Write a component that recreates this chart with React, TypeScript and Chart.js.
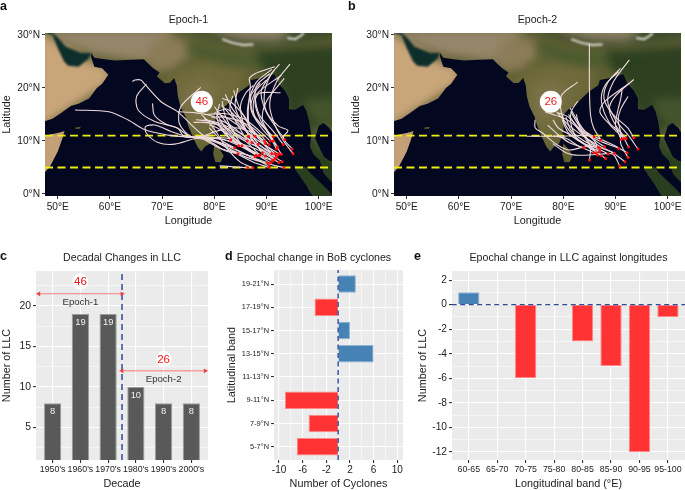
import React, { useEffect, useRef } from "react";
import { Chart, registerables } from "chart.js";

Chart.register(...registerables);

const FONT = '"Liberation Sans", Arial, sans-serif';
const GREY = "#EBEBEB";
const RED = "#FF3333";
const BLUE = "#4682B4";
const DASH_BLUE = "#2F4B9B";

// ---------- panels a / b ----------
const lonTicks = [50, 60, 70, 80, 90, 100];
const latTicks = [0, 10, 20, 30];
const lonRange = [47.55, 102.55];
const latRange = [-0.38, 30.38];
const bandLatitudes = [11, 5];

type P = [number, number];
const landMain: P[] = [[47, 13.6], [49, 14.2], [50.5, 15.2], [52.5, 16.6], [54, 17], [56, 18], [57.5, 20], [58.5, 20.8], [59.7, 22.5], [58.5, 23.7], [57, 24], [56.4, 25.8], [56.4, 26.6], [57, 25.7], [59, 25.4], [61, 25.2], [64, 25.3], [66.5, 25.4], [67.3, 24.6], [68.3, 23.7], [69.5, 22.9], [69, 22.2], [70.5, 20.9], [71.5, 21], [72.3, 21.9], [72.8, 20.5], [73, 18.5], [73.5, 16.5], [74.5, 14.5], [75, 12.8], [76, 10.5], [76.8, 8.8], [77.5, 8], [78.2, 8.9], [79.2, 9.5], [79.8, 11], [80.2, 13.5], [80.1, 15], [81, 16], [82.3, 16.7], [83.5, 18], [85, 19.4], [86.7, 20.5], [87, 21.5], [88.5, 21.8], [90.5, 22.3], [91.5, 22.6], [92.3, 20.8], [93.5, 19.5], [94.3, 18], [94.3, 16], [95.5, 15.9], [97, 16.8], [97.7, 15.5], [98.2, 13.5], [98.6, 11], [98.3, 9], [99, 7.5], [100.2, 6.3], [101, 3.8], [102.5, 2.2], [103, 2.2], [103, 6], [102, 6.3], [101, 7], [100, 9], [99.3, 10.5], [100, 12.8], [100.9, 13.4], [102, 12.5], [103, 11], [103, 31], [47, 31]];
const landAfrica: P[] = [[47, 3.5], [48.5, 5.2], [50, 8], [50.9, 10.5], [51.3, 11.9], [50, 11.5], [48.5, 11.2], [47, 10.8]];
const landSumatra: P[] = [[95.3, 5.4], [97.5, 5.1], [98.5, 3.8], [100.5, 2], [102, 0.5], [103, -0.7], [99, -0.7], [97.5, 1.8], [95.6, 4.5]];
const landSriLanka: P[] = [[80, 9.5], [81, 8.5], [81.8, 7.2], [81.2, 6], [80.2, 6], [79.8, 7.5]];
const landSocotra: P[] = [[53.3, 12.5], [54.4, 12.7], [54.2, 12.3], [53.4, 12.3]];
const persianGulf: P[] = [[47, 30.6], [49, 30], [50, 27.5], [51.2, 25], [52, 24.2], [54, 24], [55.8, 25.4], [56.4, 26.6], [54.5, 26.6], [51.5, 27.8], [50, 29.5], [48.5, 30.8]];

const patchArabia: P[] = [[46, 12], [60, 21], [60, 24], [56, 25], [52, 28], [48, 30], [46, 31]];
const patchHorn: P[] = [[46, 3], [52, 3], [52, 13], [46, 13]];
const patchIran: P[] = [[47, 31], [50, 29], [56, 26.5], [66, 25], [69, 25], [71, 28], [72, 31]];
const patchThar: P[] = [[68, 23], [72, 23.5], [75, 26], [75, 29], [70, 30], [67, 27]];
const patchIndia: P[] = [[70, 21], [74, 24], [80, 25], [86, 23.5], [85, 19], [80, 14], [78, 8], [75, 11]];
const patchDeccan: P[] = [[74, 20], [78, 22], [81, 20], [79, 15], [76, 13], [74, 16]];
const patchGanges: P[] = [[74, 29], [78, 28], [84, 26.5], [90, 26.5], [90, 24], [82, 24.5], [76, 26.5]];
const patchNorthEast: P[] = [[88, 27], [104, 28], [104, 14], [98, 12], [94, 16], [92, 21], [89, 24]];
const patchThailand: P[] = [[97, 18], [104, 18], [104, 13], [100, 13], [98, 15]];
const patchPeninsula: P[] = [[97, 13], [101, 8], [104, 5], [104, 1], [100, 4], [97, 9]];
const patchSumatra: P[] = [[93, 7], [105, 7], [105, -3], [93, -3]];
const patchHimalaya: P[] = [[72, 31.5], [76, 30.5], [80, 29.2], [85, 28], [90, 27.8], [96, 28.5], [104, 29.5], [104, 32]];
const patchTibet: P[] = [[78, 32], [80, 30.5], [85, 29], [92, 28.8], [95, 30], [92, 32]];
const snowLineA: P[] = [[81.5, 29.2], [83.5, 28.5], [85.5, 28.1], [87.5, 28.2]];
const snowLineB: P[] = [[94, 29.4], [95.5, 29.2], [96.5, 29.8], [97.2, 30.4]];

const mapPatches: { poly: P[]; color: string }[] = [
  { poly: patchArabia, color: "#C9A57A" },
  { poly: patchHorn, color: "#C4A078" },
  { poly: patchIran, color: "#96866A" },
  { poly: patchThar, color: "#8C7C58" },
  { poly: patchIndia, color: "#6E6A3A" },
  { poly: patchDeccan, color: "#7B7148" },
  { poly: patchGanges, color: "#4A5A2E" },
  { poly: patchNorthEast, color: "#2C4020" },
  { poly: patchThailand, color: "#44552C" },
  { poly: patchPeninsula, color: "#2A4222" },
  { poly: patchSumatra, color: "#283E1E" },
  { poly: patchHimalaya, color: "#3C4A2A" },
  { poly: patchTibet, color: "#8A7E62" },
];

const epoch1Tracks: P[][] = [
  [[95.1, 7.6], [93.4, 9.8], [91.6, 13], [90.6, 17], [92, 21.3], [94.5, 24.5]],
  [[94.9, 8.5], [93.2, 10.6], [94.1, 12], [92.3, 12.8], [90, 15.5], [89.6, 19], [90.8, 22.5], [92.5, 24.5]],
  [[93.5, 10.3], [92, 12.3], [89.8, 15.8], [89, 19.5], [91.5, 23.4]],
  [[93.2, 9.35], [91.3, 11.8], [88.6, 15], [87.8, 18.5], [88.2, 20.6], [90.65, 22.7]],
  [[92.1, 8.9], [90.5, 11.5], [89.2, 14], [90, 17.5], [93.4, 21.8]],
  [[91.9, 8.5], [90, 12], [87.6, 15], [88, 18.7], [92.85, 22.4]],
  [[92.85, 7.5], [91, 10.5], [88.8, 14], [87.8, 17.3], [88.6, 19], [92.7, 19.1]],
  [[86.4, 4.95], [84, 5.1], [81, 5.3]],
  [[87.4, 4.95], [85, 6], [82.5, 8.5], [80.5, 11.5], [79, 13.5], [77.5, 15]],
  [[93.35, 4.95], [90, 5.8], [86, 7], [82, 9], [78, 10.5], [74.3, 10.8], [71.1, 11.1], [66.7, 12.1], [63.5, 13.95], [59.8, 15.5], [53.3, 15.85]],
  [[90.5, 5], [87.5, 6], [83.5, 8], [79, 10.5], [74.25, 10.8], [73, 12.4], [68.6, 13.65], [65.4, 15.85], [65.1, 18.4], [67, 20.75]],
  [[90.2, 5.9], [87, 7], [83, 9], [78, 11], [73, 15.5], [69.8, 17.4], [66.5, 20.9], [65.9, 21.5], [64.8, 21.5], [64.3, 21.2]],
  [[90.8, 5.9], [87, 8], [82.5, 10.5], [76.8, 10.5], [74.9, 11.1], [73, 12.4], [70.5, 13.3], [68.5, 14.9], [68.15, 17.1]],
  [[90.45, 5.3], [86, 7.5], [80, 10], [76.8, 10.5], [72.4, 9.4], [69.2, 9.7], [67, 11.45], [66.8, 12.7], [68.6, 13], [71.7, 11.8], [75, 10.8], [79, 11]],
  [[92.35, 5.95], [88, 8.5], [83, 10], [78, 10.8], [75.5, 10.8], [73.3, 13.3], [73.6, 16.5], [77.4, 20.1]],
  [[93, 6.1], [89, 8.5], [84, 11], [80, 14.5], [76.5, 15.3], [73, 15.5]],
  [[92.35, 7.6], [88.5, 10], [84.5, 13], [81, 15], [78, 15]],
  [[92.1, 7.3], [88, 9.5], [84, 12], [80.5, 13.5], [76.5, 14]],
  [[91.6, 6.6], [88, 9], [84, 11.5], [81, 13], [78, 13.5], [76, 13.5]],
  [[91.15, 6.4], [87.5, 8], [84, 10], [81.5, 12.5], [79, 13.8]],
  [[91.3, 6.2], [88, 7.5], [85, 9.5], [82.5, 12], [80.5, 15]],
  [[91.9, 6.95], [89, 9], [86, 12], [83, 15], [81.4, 16.8]],
  [[91.6, 7.6], [89, 10], [86, 13], [83.5, 16], [82.1, 18.8]],
  [[91, 7.65], [88.5, 10.5], [86, 14], [84.5, 17], [83.7, 19.6]],
  [[89.8, 7.15], [87.5, 10], [85.5, 13], [84, 16.5], [84.5, 20]],
  [[89.2, 7.8], [87, 10.5], [85, 13.5], [82.5, 16], [80.4, 15.5]],
  [[88.75, 7.3], [86.5, 9.5], [84, 11.5], [81.5, 14.5], [80, 16.5]],
  [[88.45, 7.2], [86, 9], [83, 11], [80.5, 12.5], [79, 13]],
  [[88, 7.3], [85, 9], [82, 10.2], [79.5, 10.5], [77, 10.6]],
  [[87.8, 7], [84.5, 7.8], [81.5, 8.5], [79, 10], [77, 10.5]],
  [[84.5, 7.6], [82.5, 8], [80.5, 8.9], [78, 10.3]],
  [[84.66, 9.1], [82.5, 11], [80.5, 13.2], [78, 14.2]],
  [[83.15, 10.2], [81.5, 12], [80.5, 14.5], [81, 17]],
  [[83.9, 8.7], [81.5, 10], [80, 11.5], [79, 12.5]],
  [[85.3, 9.1], [83.5, 12], [82, 15], [81.5, 17.5]],
  [[86.3, 10], [84.5, 13], [83, 16], [83.5, 18.5]],
  [[86.55, 10.9], [85.5, 13.5], [85, 16.5], [86, 19], [87.5, 20.5]],
  [[87.8, 10.9], [86.5, 13.5], [86.5, 17], [88, 21], [91, 23.5]],
  [[87.2, 9.7], [85, 11.5], [83, 13], [81, 14]],
  [[88.4, 9.4], [86.8, 12], [86.5, 15.5], [86.9, 20.5], [86.7, 21.8], [87.8, 22.7], [91.6, 24]],
  [[89.8, 9.5], [87.5, 12], [85.5, 15], [83, 17.5], [81.5, 18]],
  [[90.5, 9.3], [88, 12], [85.5, 13.5], [82, 14.5], [79.5, 14.5]],
  [[91.3, 10.8], [89.5, 12.5], [87.5, 15], [87, 18.5], [88.8, 20.85]],
  [[91.3, 10], [89, 12.5], [87, 16], [88, 19.5], [90, 21.5]],
  [[90.7, 10], [88.5, 12], [86, 14], [83, 15], [80, 15.3]],
  [[89.6, 10], [87.5, 11.5], [84, 12.5], [81, 12], [78, 11]],
];

const epoch2Tracks: P[][] = [
  [[94.3, 8.5], [92.5, 11], [90, 14], [88.5, 17.5], [89.5, 21], [92.65, 25.3]],
  [[93.5, 10.6], [92.3, 12.5], [89.5, 15], [87.8, 18], [88.5, 21], [90.95, 23.7]],
  [[92.5, 8.9], [91, 11.5], [88.8, 13.5], [87.3, 17.5], [88, 20.5], [90.6, 23.1]],
  [[92, 10.45], [90, 13], [88.8, 16], [90, 18.5], [93.5, 21.6]],
  [[91.6, 10.45], [89, 13], [87, 15.5], [88, 17.5], [92.65, 20.9]],
  [[91.1, 10.3], [90, 13], [90.5, 16], [91, 18], [91.3, 19.9]],
  [[92.4, 6.9], [91, 9.5], [91, 11.5], [90.5, 14], [91, 16], [92.4, 18.4]],
  [[87.2, 10.2], [85.8, 12.5], [85.2, 15], [85, 20], [85, 28.4]],
  [[92.2, 7.8], [89, 9.5], [85, 11], [80, 10.9], [76, 10.9], [73, 10.9]],
  [[91.8, 6.1], [89, 8], [85, 9], [81, 8.3], [78.5, 9.5], [76, 11.5], [74.6, 12.5], [74.6, 14]],
  [[90.8, 5.3], [89.5, 7.5], [87, 7.5], [83, 7.3], [80.5, 7.8], [78, 9.5]],
  [[90.6, 8.6], [87, 10], [84, 11.5], [81.5, 13.5], [79.6, 14.5], [76.5, 15.5]],
  [[89.8, 7.7], [87, 9], [84, 10.8], [81, 13], [78.7, 15.5]],
  [[88.6, 7.55], [86, 8.8], [83, 10], [81.5, 13], [81.5, 15.5], [82.75, 17.5]],
  [[88.1, 6.7], [85.5, 8.5], [82, 11], [80, 14], [79.6, 18.5], [82.75, 21.1]],
  [[87.9, 8.9], [85.5, 10.5], [83, 12.5], [81, 14.5], [79, 15.3]],
  [[87.3, 7.2], [84.5, 9], [81.5, 11], [79, 12.5], [78, 14]],
  [[87, 8], [84, 9.5], [81, 11.5], [79.8, 14]],
  [[86.7, 8.8], [84, 10], [81.5, 12], [80.5, 14.5]],
  [[86.5, 7.35], [86.3, 9.5], [84.5, 11.5], [83, 13], [82, 14.5], [81.5, 15.5]],
  [[86.35, 7.8], [84.5, 10], [83, 13], [82.5, 15]],
  [[85.9, 7.8], [83, 9], [80.5, 10.5], [78, 11]],
  [[85, 6.4], [85.2, 8.5], [84.5, 10.5], [82.5, 12.8]],
  [[83.9, 8.75], [81.5, 9.5], [79.5, 10.8], [77, 13]],
  [[87, 8.6], [85, 10], [83, 12], [81, 15]],
  [[85.9, 10.8], [84, 12], [82, 15], [81.3, 16.2]],
];
const badgePosition: P = [77.6, 17.4];

// ---------- panel c ----------
const decades = ["1950's", "1960's", "1970's", "1980's", "1990's", "2000's"];
const decadeCounts = [8, 19, 19, 10, 8, 8];
const decadeYTicks = [2.5, 5, 7.5, 10, 12.5, 15, 17.5, 20, 22.5];
const epochSplit = 2.5;
const epoch1Span = [-0.5, 2.5];
const epoch2Span = [2.5, 5.5];
const epoch1ArrowLevel = 21.5;
const epoch2ArrowLevel = 12;

// ---------- panel d ----------
const latBands = ["5-7°N", "7-9°N", "9-11°N", "11-13°N", "13-15°N", "15-17°N", "17-19°N", "19-21°N"];
const latChange = [-7, -5, -9, 0, 6, 2, -4, 3];
const latXTicks = [-10, -8, -6, -4, -2, 0, 2, 4, 6, 8, 10];
const latXLabelled = [-10, -6, -2, 2, 6, 10];

// ---------- panel e ----------
const lonBands = ["60-65", "65-70", "70-75", "75-80", "80-85", "85-90", "90-95", "95-100"];
const lonChange = [1, 0, -6, 0, -3, -5, -12, -1];
const lonYTicks = [-12, -11, -10, -9, -8, -7, -6, -5, -4, -3, -2, -1, 0, 1, 2];

type Note = { x: number; y: number; text: string; color: string; size: number; circle?: number };

const notesPlugin = (id: string, notes: Note[]) => ({
  id,
  afterDatasetsDraw(chart: any) {
    const { ctx, scales } = chart;
    ctx.save();
    ctx.textAlign = "center";
    ctx.textBaseline = "middle";
    for (const n of notes) {
      const px = scales.x.getPixelForValue(n.x);
      const py = scales.y.getPixelForValue(n.y);
      if (n.circle) {
        ctx.fillStyle = "#fff";
        ctx.beginPath();
        ctx.arc(px, py, n.circle, 0, Math.PI * 2);
        ctx.fill();
      }
      ctx.fillStyle = n.color;
      ctx.font = `${n.size}px ${FONT}`;
      ctx.fillText(n.text, px, py + 0.5);
    }
    ctx.restore();
  },
});

const panelBgPlugin = {
  id: "panelBg",
  beforeDraw(chart: any) {
    const { ctx, chartArea: a } = chart;
    ctx.save();
    ctx.fillStyle = GREY;
    ctx.fillRect(a.left, a.top, a.right - a.left, a.bottom - a.top);
    ctx.restore();
  },
};

const mapPlugin = {
  id: "mapLayer",
  beforeDatasetsDraw(chart: any) {
    const { ctx, chartArea: a, scales } = chart;
    ctx.save();
    ctx.beginPath();
    ctx.rect(a.left, a.top, a.right - a.left, a.bottom - a.top);
    ctx.clip();
    ctx.fillStyle = "#03071F";
    ctx.fillRect(a.left, a.top, a.right - a.left, a.bottom - a.top);

    const off = document.createElement("canvas");
    off.width = chart.width;
    off.height = chart.height;
    const oc: any = off.getContext("2d");
    const trace = (poly: P[], close: boolean) => {
      oc.beginPath();
      poly.forEach(([lon, lat], i) => {
        const px = scales.x.getPixelForValue(lon);
        const py = scales.y.getPixelForValue(lat);
        if (i === 0) oc.moveTo(px, py);
        else oc.lineTo(px, py);
      });
      if (close) oc.closePath();
    };
    oc.filter = "blur(0.6px)";
    oc.fillStyle = "#5F5F32";
    [landMain, landAfrica, landSumatra, landSriLanka, landSocotra].forEach((p) => {
      trace(p, true);
      oc.fill();
    });
    oc.globalCompositeOperation = "source-atop";
    oc.filter = "blur(5px)";
    for (const patch of mapPatches) {
      oc.fillStyle = patch.color;
      trace(patch.poly, true);
      oc.fill();
    }
    oc.filter = "blur(1.2px)";
    oc.fillStyle = "#0E2E2C";
    trace(persianGulf, true);
    oc.fill();
    oc.strokeStyle = "#E4E0D8";
    oc.lineWidth = 2;
    oc.filter = "blur(1px)";
    for (const s of [snowLineA, snowLineB]) {
      trace(s, false);
      oc.stroke();
    }
    ctx.drawImage(off, 0, 0);
    ctx.restore();
  },
};

const pinned = (size: number) => (scale: any) => {
  if (scale.isHorizontal()) scale.height = size;
  else scale.width = size;
};

const fixedTicks = (values: number[]) => (scale: any) => {
  scale.ticks = values.map((value) => ({ value }));
};

const axisTitle = (text: string, padding = 0) => ({
  display: true,
  text,
  color: "#222",
  font: { family: FONT, size: 10.8 },
  padding,
});

const chartTitle = (text: string, top: number, bottom: number, fullSize = false) => ({
  display: true,
  text,
  fullSize,
  color: "#222",
  font: { family: FONT, size: 10.6, weight: "normal" as const },
  padding: { top, bottom },
});

const mapConfig = (title: string, tracks: P[][], badge: string): any => {
  const trackSets = tracks.map((t) => ({
    data: t.map(([x, y]) => ({ x, y })),
    showLine: true,
    borderColor: "#EFDADC",
    borderWidth: 1.1,
    tension: 0.3,
    pointRadius: 0,
    order: 3,
  }));
  const geneses = {
    data: tracks.map((t) => ({ x: t[0][0], y: t[0][1] })),
    showLine: false,
    pointRadius: 1.5,
    pointBackgroundColor: "#FF1010",
    pointBorderWidth: 0,
    order: 1,
  };
  const bands = bandLatitudes.map((lat) => ({
    data: lonRange.map((x) => ({ x, y: lat })),
    showLine: true,
    borderColor: "#EDED10",
    borderWidth: 1.8,
    borderDash: [8, 4.5],
    pointRadius: 0,
    order: 4,
  }));
  return {
    type: "scatter",
    data: { datasets: [...bands, ...trackSets, geneses] },
    options: {
      animation: false,
      responsive: false,
      layout: { padding: 0 },
      plugins: {
        legend: { display: false },
        tooltip: { enabled: false },
        title: chartTitle(title, 13.6, 6.6),
      },
      scales: {
        x: {
          type: "linear",
          min: lonRange[0],
          max: lonRange[1],
          afterBuildTicks: fixedTicks(lonTicks),
          afterFit: pinned(32),
          grid: { drawOnChartArea: false, tickColor: "#333", tickLength: 3 },
          border: { display: false },
          ticks: { autoSkip: false, maxRotation: 0, color: "#222", padding: 2, font: { family: FONT, size: 10.2 }, callback: (v: number) => `${v}°E` },
          title: axisTitle("Longitude"),
        },
        y: {
          type: "linear",
          min: latRange[0],
          max: latRange[1],
          afterBuildTicks: fixedTicks(latTicks),
          afterFit: pinned(45),
          grid: { drawOnChartArea: false, tickColor: "#333", tickLength: 3 },
          border: { display: false },
          ticks: { autoSkip: false, color: "#222", padding: 2, font: { family: FONT, size: 10.2 }, callback: (v: number) => `${v}°N` },
          title: axisTitle("Latitude", 1),
        },
      },
    },
    plugins: [
      mapPlugin,
      notesPlugin("badge", [{ x: badgePosition[0], y: badgePosition[1], text: badge, color: "#F01E1E", size: 11.5, circle: 11 }]),
    ],
  };
};

const gridWidth = (isMajor: (v: number) => boolean) => (c: any) => (c.tick && isMajor(c.tick.value) ? 1.1 : 0.55);

const decadeConfig = (): any => ({
  type: "bar",
  data: {
    datasets: [
      {
        type: "bar",
        data: decadeCounts.map((y, x) => ({ x, y })),
        backgroundColor: "#595959",
        borderColor: "#9A9A9A",
        borderWidth: 1,
        barPercentage: 0.62,
        categoryPercentage: 1,
        order: 3,
      },
      {
        type: "line",
        data: [{ x: epochSplit, y: 1 }, { x: epochSplit, y: 24.3 }],
        borderColor: DASH_BLUE,
        borderWidth: 1.5,
        borderDash: [6, 4],
        pointRadius: 0,
        order: 2,
      },
      {
        type: "line",
        data: epoch1Span.map((x) => ({ x, y: epoch1ArrowLevel })),
        borderColor: "#F28080",
        borderWidth: 1.1,
        pointStyle: "triangle",
        pointRadius: 2.8,
        pointRotation: [-90, 90],
        pointBackgroundColor: "#EE4040",
        pointBorderWidth: 0,
        order: 1,
      },
      {
        type: "line",
        data: epoch2Span.map((x) => ({ x, y: epoch2ArrowLevel })),
        borderColor: "#F4A0A0",
        borderWidth: 1.5,
        pointStyle: "triangle",
        pointRadius: 2.8,
        pointRotation: [-90, 90],
        pointBackgroundColor: "#EE4040",
        pointBorderWidth: 0,
        order: 1,
      },
    ],
  },
  options: {
    animation: false,
    responsive: false,
    plugins: {
      legend: { display: false },
      tooltip: { enabled: false },
      title: chartTitle("Decadal Changes in LLC", 11.7, 6.7),
    },
    scales: {
      x: {
        type: "linear",
        offset: false,
        min: -0.6,
        max: 5.6,
        afterBuildTicks: fixedTicks(decades.map((_, i) => i)),
        afterFit: pinned(31),
        grid: { offset: false, color: "#fff", lineWidth: 1.1, tickColor: "#333", tickLength: 3 },
        border: { display: false },
        ticks: { autoSkip: false, maxRotation: 0, color: "#222", padding: 1, font: { family: FONT, size: 8.8 }, callback: (v: number) => decades[v] },
        title: axisTitle("Decade"),
      },
      y: {
        type: "linear",
        min: 1,
        max: 24.3,
        afterBuildTicks: fixedTicks(decadeYTicks),
        afterFit: pinned(36),
        grid: {
          color: "#fff",
          lineWidth: gridWidth((v) => v % 5 === 0),
          tickColor: (c: any) => (c.tick && c.tick.value % 5 === 0 ? "#333" : "transparent"),
          tickLength: 3,
        },
        border: { display: false },
        ticks: { autoSkip: false, color: "#222", padding: 2, font: { family: FONT, size: 10.4 }, callback: (v: number) => (v % 5 === 0 ? String(v) : "") },
        title: axisTitle("Number of LLC", 1),
      },
    },
  },
  plugins: [
    panelBgPlugin,
    {
      id: "valueLabels",
      afterDatasetsDraw(chart: any) {
        const { ctx } = chart;
        const meta = chart.getDatasetMeta(0);
        ctx.save();
        ctx.fillStyle = "#F2F2F2";
        ctx.font = `9.4px ${FONT}`;
        ctx.textAlign = "center";
        ctx.textBaseline = "middle";
        meta.data.forEach((bar: any, i: number) => ctx.fillText(String(decadeCounts[i]), bar.x, bar.y + 8));
        ctx.restore();
      },
    },
    notesPlugin("decadeNotes", [
      { x: 1, y: 23, text: "46", color: "#F01414", size: 11.5, circle: 8 },
      { x: 4, y: 13.45, text: "26", color: "#F01414", size: 11.5, circle: 8 },
      { x: 1, y: 20.5, text: "Epoch-1", color: "#333", size: 9.6 },
      { x: 4, y: 11, text: "Epoch-2", color: "#333", size: 9.6 },
    ]),
  ],
});

const signColor = (v: number) => (v > 0 ? BLUE : RED);

const latConfig = (): any => ({
  type: "bar",
  data: {
    datasets: [
      {
        type: "bar",
        data: latChange.map((x, y) => ({ x, y })),
        backgroundColor: latChange.map(signColor),
        borderColor: latChange.map((v) => (v > 0 ? "#8FB4D4" : "#FF8A8A")),
        borderWidth: 1,
        barPercentage: 0.75,
        categoryPercentage: 1,
        order: 2,
      },
      {
        type: "scatter",
        showLine: true,
        data: [{ x: 0, y: -0.57 }, { x: 0, y: 7.6 }],
        borderColor: DASH_BLUE,
        borderWidth: 1.4,
        borderDash: [5, 3.5],
        pointRadius: 0,
        order: 1,
      },
    ],
  },
  options: {
    indexAxis: "y",
    animation: false,
    responsive: false,
    layout: { padding: { right: 49 } },
    plugins: {
      legend: { display: false },
      tooltip: { enabled: false },
      title: chartTitle("Epochal change in BoB cyclones", 11.7, 5.7, true),
    },
    scales: {
      x: {
        type: "linear",
        min: -10.85,
        max: 10.97,
        afterBuildTicks: fixedTicks(latXTicks),
        afterFit: pinned(31),
        grid: {
          color: "#fff",
          lineWidth: gridWidth((v) => latXLabelled.includes(v)),
          tickColor: (c: any) => (c.tick && latXLabelled.includes(c.tick.value) ? "#333" : "transparent"),
          tickLength: 3,
        },
        border: { display: false },
        ticks: { autoSkip: false, maxRotation: 0, color: "#222", padding: 1, font: { family: FONT, size: 10 }, callback: (v: number) => (latXLabelled.includes(v) ? String(v) : "") },
        title: axisTitle("Number of Cyclones"),
      },
      y: {
        type: "linear",
        offset: false,
        min: -0.57,
        max: 7.6,
        afterBuildTicks: fixedTicks(latBands.map((_, i) => i)),
        afterFit: pinned(49),
        grid: { offset: false, color: "#fff", lineWidth: 1.1, tickColor: "#333", tickLength: 3 },
        border: { display: false },
        ticks: { autoSkip: false, color: "#222", padding: 2, font: { family: FONT, size: 7.4 }, callback: (v: number) => latBands[v] },
        title: axisTitle("Latitudinal band", 1),
      },
    },
  },
  plugins: [panelBgPlugin],
});

const lonConfig = (): any => ({
  type: "bar",
  data: {
    datasets: [
      {
        type: "bar",
        data: lonChange.map((y, x) => ({ x, y })),
        backgroundColor: lonChange.map(signColor),
        borderColor: lonChange.map((v) => (v > 0 ? "#8FB4D4" : "#FF8A8A")),
        borderWidth: 1,
        barPercentage: 0.75,
        categoryPercentage: 1,
        order: 2,
      },
      {
        type: "line",
        data: [{ x: -0.6, y: 0 }, { x: 7.6, y: 0 }],
        borderColor: DASH_BLUE,
        borderWidth: 1.3,
        borderDash: [5, 3.5],
        pointRadius: 0,
        order: 1,
      },
    ],
  },
  options: {
    animation: false,
    responsive: false,
    plugins: {
      legend: { display: false },
      tooltip: { enabled: false },
      title: chartTitle("Epochal change in LLC against longitudes", 11.7, 6.7),
    },
    scales: {
      x: {
        type: "linear",
        offset: false,
        min: -0.59,
        max: 7.6,
        afterBuildTicks: fixedTicks(lonBands.map((_, i) => i)),
        afterFit: pinned(31),
        grid: { offset: false, color: "#fff", lineWidth: 1.1, tickColor: "#333", tickLength: 3 },
        border: { display: false },
        ticks: { autoSkip: false, maxRotation: 0, color: "#222", padding: 1, font: { family: FONT, size: 8.8 }, callback: (v: number) => lonBands[v] },
        title: axisTitle("Longitudinal band (°E)"),
      },
      y: {
        type: "linear",
        min: -12.65,
        max: 2.73,
        afterBuildTicks: fixedTicks(lonYTicks),
        afterFit: pinned(36),
        grid: {
          color: "#fff",
          lineWidth: gridWidth((v) => v % 2 === 0),
          tickColor: (c: any) => (c.tick && c.tick.value % 2 === 0 ? "#333" : "transparent"),
          tickLength: 3,
        },
        border: { display: false },
        ticks: { autoSkip: false, color: "#222", padding: 2, font: { family: FONT, size: 10.2 }, callback: (v: number) => (v % 2 === 0 ? String(v) : "") },
        title: axisTitle("Number of LLC", 1),
      },
    },
  },
  plugins: [panelBgPlugin],
});

const boxes = [
  { key: "a", left: 0, top: 0, width: 336, height: 228, config: () => mapConfig("Epoch-1", epoch1Tracks, "46") },
  { key: "b", left: 349, top: 0, width: 336, height: 228, config: () => mapConfig("Epoch-2", epoch2Tracks, "26") },
  { key: "c", left: 0, top: 240, width: 212, height: 251, config: decadeConfig },
  { key: "d", left: 225, top: 240, width: 227, height: 251, config: latConfig },
  { key: "e", left: 416, top: 240, width: 269, height: 251, config: lonConfig },
];

const panelLetters = [
  { text: "a", left: 0, top: -1 },
  { text: "b", left: 348, top: -1 },
  { text: "c", left: 0, top: 249 },
  { text: "d", left: 225, top: 249 },
  { text: "e", left: 414, top: 249 },
];

export default function App() {
  const refs = useRef<(HTMLCanvasElement | null)[]>([]);
  useEffect(() => {
    const charts = boxes.map((b, i) => new Chart(refs.current[i] as HTMLCanvasElement, b.config()));
    return () => charts.forEach((c) => c.destroy());
  }, []);
  return (
    <div style={{ position: "absolute", left: 0, top: 0, width: 685, height: 490, background: "#fff", overflow: "hidden" }}>
      {boxes.map((b, i) => (
        <canvas
          key={b.key}
          ref={(el) => { refs.current[i] = el; }}
          width={b.width}
          height={b.height}
          style={{ position: "absolute", left: b.left, top: b.top, width: b.width, height: b.height, display: "block" }}
        />
      ))}
      {panelLetters.map((l) => (
        <span key={l.text} style={{ position: "absolute", left: l.left, top: l.top, font: `bold 12.5px ${FONT}`, color: "#111" }}>
          {l.text}
        </span>
      ))}
    </div>
  );
}
